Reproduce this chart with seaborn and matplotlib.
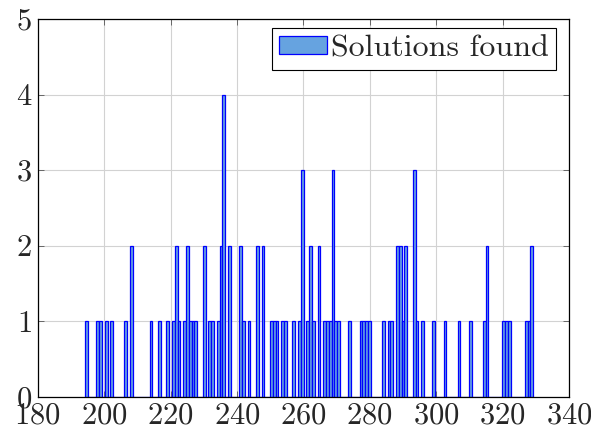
import matplotlib
matplotlib.use("Agg")
import matplotlib.pyplot as plt
import seaborn as sns
import pandas as pd

# Histogram of solution costs: bin centre and number of solutions per bin
cost = [194.7, 198.1, 198.9, 200.6, 202.3, 206.5, 208.2, 214.1, 216.6, 219.2,
        220.9, 221.7, 222.5, 224.2, 225.1, 225.9, 226.8, 227.6, 230.1, 231.8,
        232.7, 234.3, 235.2, 236.0, 237.7, 241.1, 241.9, 243.6, 246.1, 247.8,
        250.4, 251.2, 252.0, 253.7, 254.6, 257.1, 258.8, 259.6, 261.3, 262.2,
        263.0, 264.7, 266.4, 267.2, 268.1, 268.9, 269.8, 270.6, 274.0, 277.3,
        278.2, 279.0, 279.9, 284.1, 285.8, 286.6, 288.3, 289.1, 290.0, 290.8,
        293.4, 294.2, 295.9, 299.3, 302.6, 306.8, 310.2, 314.4, 315.3, 320.3,
        321.2, 322.0, 327.1, 327.9, 328.8]
count = [1, 1, 1, 1, 1, 1, 2, 1, 1, 1,
         1, 2, 1, 1, 2, 1, 1, 1, 2, 1,
         1, 1, 2, 4, 2, 2, 1, 1, 2, 2,
         1, 1, 1, 1, 1, 1, 1, 3, 1, 2,
         1, 2, 1, 1, 1, 3, 1, 1, 1, 1,
         1, 1, 1, 1, 1, 1, 2, 2, 1, 2,
         3, 1, 1, 1, 1, 1, 1, 1, 2, 1,
         1, 1, 1, 1, 2]

n_bins = 160
cost_range = (194.3, 329.2)

x_ticks = [180, 200, 220, 240, 260, 280, 300, 320, 340]
y_ticks = [0, 1, 2, 3, 4, 5]

df = pd.DataFrame({"cost": cost, "count": count})

sns.set_theme(style="whitegrid")
plt.rcParams["font.family"] = ["cmr10", "DejaVu Serif"]
plt.rcParams["axes.formatter.use_mathtext"] = True
plt.rcParams["mathtext.fontset"] = "cm"

fig = plt.figure(figsize=(5.91, 4.32), dpi=100)
ax = fig.add_axes([0.0638, 0.0817, 0.8990, 0.8743])

sns.histplot(data=df, x="cost", weights="count", bins=n_bins,
             binrange=cost_range, ax=ax, color="#66a3e0", alpha=1.0,
             edgecolor="#0000ff", linewidth=0.9, label="Solutions found")

ax.set_xlim(x_ticks[0], x_ticks[-1])
ax.set_ylim(y_ticks[0], y_ticks[-1])
ax.set_xticks(x_ticks)
ax.set_yticks(y_ticks)
ax.set_xlabel("")
ax.set_ylabel("")

ax.grid(True, color="#d2d2d2", linewidth=0.8)
ax.set_axisbelow(True)
for side in ax.spines.values():
    side.set_color("black")
    side.set_linewidth(0.9)

ax.tick_params(axis="both", which="major", labelsize=22, direction="in",
               length=4, width=0.6, color="#555555", pad=4,
               top=True, right=True, bottom=True, left=True)

leg = ax.legend(loc="upper right", bbox_to_anchor=(0.9755, 0.976),
                fontsize=23, frameon=True, fancybox=False,
                edgecolor="black", framealpha=1.0, borderpad=0.22,
                handlelength=1.5, handleheight=0.5, handletextpad=0.12,
                borderaxespad=0.0)
leg.get_frame().set_linewidth(0.8)

fig.savefig("out.png", dpi=100)
